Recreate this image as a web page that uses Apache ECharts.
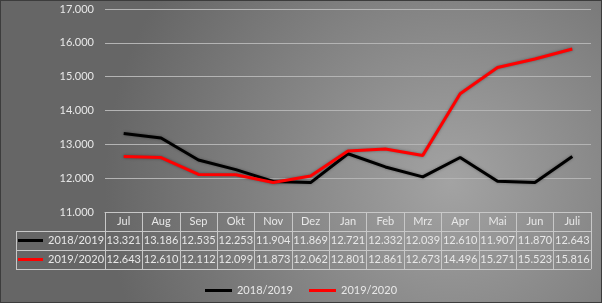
<!DOCTYPE html>
<html><head><meta charset="utf-8">
<script src="https://cdn.jsdelivr.net/npm/echarts@6/dist/echarts.min.js"></script>
<style>html,body{margin:0;padding:0;background:#777}#c{width:602px;height:303px;box-sizing:border-box;border:1px solid #3c3c3c}</style>
</head><body><div id="c"></div>
<script>
const categories = ['Jul','Aug','Sep','Okt','Nov','Dez','Jan','Feb','Mrz','Apr','Mai','Jun','Juli'];
const s1819 = [13321,13186,12535,12253,11904,11869,12721,12332,12039,12610,11907,11870,12643];
const s1920 = [12643,12610,12112,12099,11873,12062,12801,12861,12673,14496,15271,15523,15816];
const seriesNames = ['2018/2019','2019/2020'];
const yTicks = {min:11000, max:17000, interval:1000};

const fmt = v => (v/1000).toFixed(3);
const txt = '#e8e8e8';
const ln = '#c8c8c8';
const font = 'Lato';
const fs = 11;
const chart = echarts.init(document.getElementById('c'));
const gl = 104, gr = 10, gt = 8, gb = 90;
const H = 301, W = 600;
const axisY = H - gb;
function tableAxis(data, offset, idx){
  return {type:'category', data:data, position:'bottom', offset:offset, boundaryGap:true,
    axisLine:{show:true, lineStyle:{color:ln, width:1}},
    axisTick:{show:true, interval:0, length:19, lineStyle:{color:ln}},
    axisLabel:{interval:0, color:txt, fontFamily:font, fontSize:fs, margin:4,
      formatter: idx===0 ? (v=>v) : (v=>fmt(Number(v)))},
    splitLine:{show:false}};
}
chart.setOption({
  backgroundColor:{type:'radial', x:0.75, y:0.6, r:1.15,
    colorStops:[{offset:0,color:'#a3a3a3'},{offset:1,color:'#666666'}]},
  animation:false,
  grid:{left:gl, right:gr, top:gt, bottom:gb},
  legend:[
    {data:[seriesNames[0],seriesNames[1]], bottom:6, left:'center', icon:'rect', itemWidth:27, itemHeight:3, itemGap:16,
      padding:0, textStyle:{color:txt, fontFamily:font, fontSize:fs}},
    {data:[seriesNames[0]], left:17, top:234, icon:'rect', itemWidth:25, itemHeight:3, padding:0, selectedMode:false,
      textStyle:{color:txt, fontFamily:font, fontSize:fs}},
    {data:[seriesNames[1]], left:17, top:253, icon:'rect', itemWidth:25, itemHeight:3, padding:0, selectedMode:false,
      textStyle:{color:txt, fontFamily:font, fontSize:fs}}
  ],
  xAxis:[
    tableAxis(categories, 0, 0),
    tableAxis(s1819.map(String), 19, 1),
    tableAxis(s1920.map(String), 38, 2)
  ],
  yAxis:{type:'value', min:yTicks.min, max:yTicks.max, interval:yTicks.interval,
    axisLine:{show:false}, axisTick:{show:false},
    axisLabel:{color:txt, fontFamily:font, fontSize:fs, margin:11, formatter:fmt},
    splitLine:{lineStyle:{color:'#b4b4b4', width:1}}},
  series:[
    {name:seriesNames[0], type:'line', data:s1819, xAxisIndex:0, showSymbol:false, symbol:'none',
      lineStyle:{color:'#000', width:3, shadowColor:'rgba(0,0,0,0.35)', shadowBlur:3}, itemStyle:{color:'#000'}},
    {name:seriesNames[1], type:'line', data:s1920, xAxisIndex:0, showSymbol:false, symbol:'none',
      lineStyle:{color:'#ff0000', width:3, shadowColor:'rgba(0,0,0,0.35)', shadowBlur:3}, itemStyle:{color:'#ff0000'}}
  ],
  graphic:[
    {type:'line', shape:{x1:15, y1:axisY+19.5, x2:gl, y2:axisY+19.5}, style:{stroke:ln, lineWidth:1}},
    {type:'line', shape:{x1:15, y1:axisY+38.5, x2:gl, y2:axisY+38.5}, style:{stroke:ln, lineWidth:1}},
    {type:'line', shape:{x1:15, y1:axisY+57.5, x2:W-gr, y2:axisY+57.5}, style:{stroke:ln, lineWidth:1}},
    {type:'line', shape:{x1:15.5, y1:axisY+19, x2:15.5, y2:axisY+58}, style:{stroke:ln, lineWidth:1}}
  ]
});
</script></body></html>
